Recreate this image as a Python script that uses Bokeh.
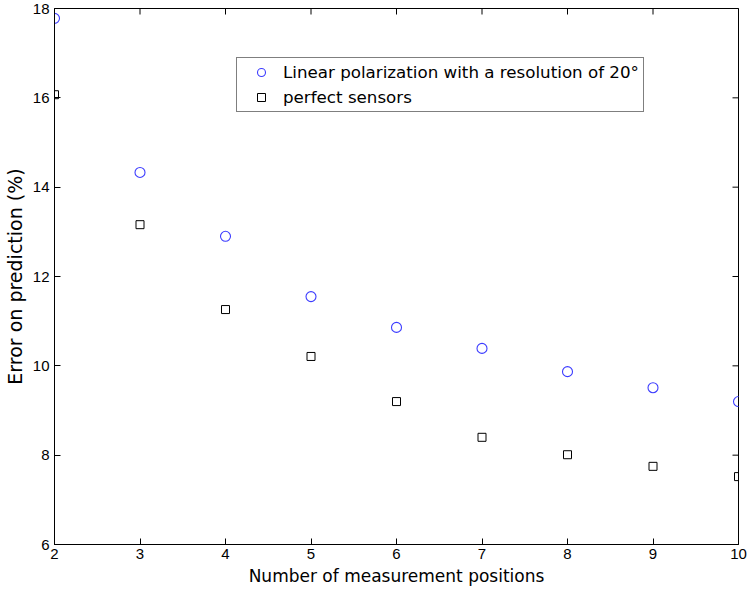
from math import pi
from bokeh.plotting import figure
from bokeh.models import Legend, LegendItem, FixedTicker, Range1d
from bokeh.embed import file_html
from bokeh.resources import INLINE

# ---- data ----
positions = [2, 3, 4, 5, 6, 7, 8, 9, 10]
err_linear20 = [17.78, 14.33, 12.90, 11.55, 10.86, 10.39, 9.87, 9.51, 9.20]
err_perfect = [16.07, 13.16, 11.26, 10.21, 9.20, 8.40, 8.01, 7.75, 7.52]
x_ticks = [2, 3, 4, 5, 6, 7, 8, 9, 10]
y_ticks = [6, 8, 10, 12, 14, 16, 18]
x_lim = (2, 10)
y_lim = (6, 18)
label_linear = "Linear polarization with a resolution of 20°"
label_perfect = "perfect sensors"
x_title = "Number of measurement positions"
y_title = "Error on prediction (%)"

TICK_FONT = "Liberation Sans"
TEXT_FONT = "DejaVu Sans"

p = figure(width=747, height=591,
           x_range=Range1d(*x_lim), y_range=Range1d(*y_lim),
           output_backend="svg", toolbar_location=None,
           min_border_left=52, min_border_right=9,
           min_border_top=8, min_border_bottom=47)
p.grid.visible = False
p.outline_line_color = "black"
p.outline_line_width = 1
p.outline_line_alpha = 1
p.background_fill_color = "white"
p.border_fill_color = "white"

xb = p.xaxis[0]
yl = p.yaxis[0]
xb.ticker = FixedTicker(ticks=x_ticks)
yl.ticker = FixedTicker(ticks=y_ticks)

for ax in (xb, yl):
    ax.major_tick_in = 6
    ax.major_tick_out = 0
    ax.minor_tick_in = 0
    ax.minor_tick_out = 0
    ax.axis_line_color = "black"
    ax.major_tick_line_color = "black"
    ax.axis_line_width = 1
    ax.major_label_text_font = TICK_FONT
    ax.major_label_text_font_size = "15px"
    ax.major_label_text_color = "black"
    ax.axis_label_text_font_style = "normal"
    ax.axis_label_text_color = "black"
    ax.axis_label_text_font = TEXT_FONT

xb.major_label_standoff = 4
yl.major_label_standoff = 5

xb.axis_label = x_title
xb.axis_label_text_font_size = "17px"
xb.axis_label_standoff = 4

yl.axis_label = y_title
yl.axis_label_text_font_size = "19px"
yl.axis_label_standoff = 4

# mirrored inward ticks on the top and right edges (half of each dash is clipped by the frame)
p.scatter(x_ticks, [y_lim[1]] * len(x_ticks), marker="dash", size=12,
          angle=pi / 2, line_color="black", line_width=1)
p.scatter([x_lim[1]] * len(y_ticks), y_ticks, marker="dash", size=12,
          line_color="black", line_width=1)

r1 = p.scatter(positions, err_linear20, marker="circle", size=10,
               fill_color=None, line_color="#3c3cff", line_width=1.1)
r2 = p.scatter(positions, err_perfect, marker="square", size=8,
               fill_color=None, line_color="black", line_width=1)

legend = Legend(items=[LegendItem(label=label_linear, renderers=[r1]),
                       LegendItem(label=label_perfect, renderers=[r2])],
                location=(182, 432), margin=0, padding=4, spacing=5,
                glyph_width=40, glyph_height=20, label_height=20,
                label_standoff=2,
                label_text_font=TEXT_FONT, label_text_font_size="16.7px",
                label_text_color="black",
                border_line_color="black", border_line_width=1,
                background_fill_color="white", background_fill_alpha=1)
p.add_layout(legend, "center")

open("out.html", "w").write(file_html(p, INLINE))
